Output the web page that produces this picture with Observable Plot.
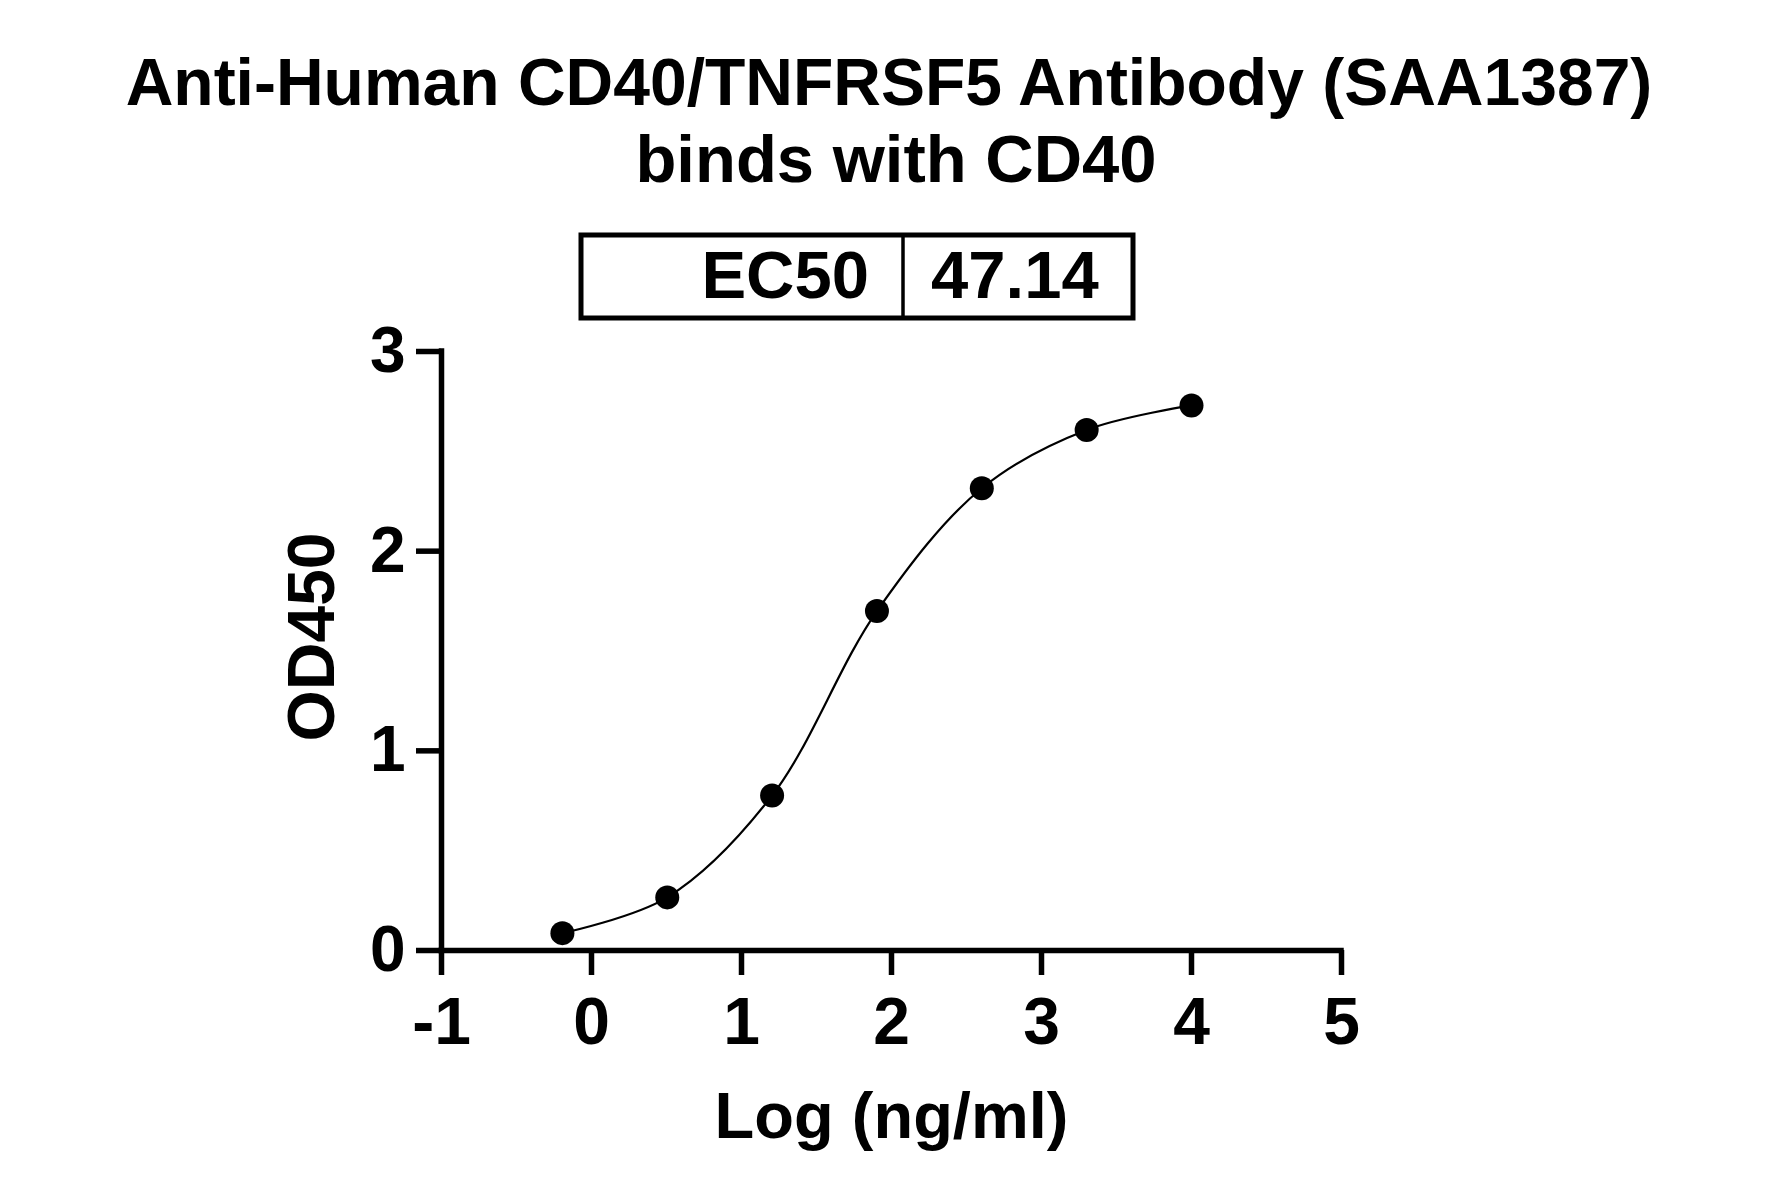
<!DOCTYPE html>
<html><head><meta charset="utf-8">
<script src="https://cdn.jsdelivr.net/npm/d3@7"></script>
<script src="https://cdn.jsdelivr.net/npm/@observablehq/plot@0.6"></script>
<style>
html,body{margin:0;padding:0;background:#fff;}
#chart{width:1781px;}
svg{display:block;}
#header{margin-bottom:-30px;}
</style></head><body><div id="chart"></div>
<script>
const titleLines = ["Anti-Human CD40/TNFRSF5 Antibody (SAA1387)", "binds with CD40"];
const ec50Label = "EC50";
const ec50Value = "47.14";
const logConc = [-0.194, 0.505, 1.204, 1.903, 2.602, 3.301, 4.0];
const od450 = [0.087, 0.266, 0.776, 1.70, 2.315, 2.607, 2.73];
const xTicks = [-1, 0, 1, 2, 3, 4, 5];
const xTickLabels = ["-1", "0", "1", "2", "3", "4", "5"];
const yTicks = [0, 1, 2, 3];
const yTickLabels = ["0", "1", "2", "3"];
const xLabel = "Log (ng/ml)";
const yLabel = "OD450";

const font = "'Liberation Sans', Arial, Helvetica, sans-serif";

// Header: title + EC50 table (placed above the plot)
const header = d3.select("#chart").append("svg")
  .attr("id", "header")
  .attr("width", 1781).attr("height", 335)
  .style("font-family", font);
header.append("text").attr("x", 889).attr("y", 105)
  .attr("text-anchor", "middle").attr("font-size", 66).attr("font-weight", "bold")
  .text(titleLines[0]);
header.append("text").attr("x", 896).attr("y", 182)
  .attr("text-anchor", "middle").attr("font-size", 67).attr("font-weight", "bold")
  .text(titleLines[1]);
header.append("rect").attr("x", 581).attr("y", 235).attr("width", 552).attr("height", 83)
  .attr("fill", "none").attr("stroke", "#000").attr("stroke-width", 5);
header.append("line").attr("x1", 903).attr("x2", 903).attr("y1", 235).attr("y2", 318)
  .attr("stroke", "#000").attr("stroke-width", 3.5);
header.append("text").attr("x", 869).attr("y", 298)
  .attr("text-anchor", "end").attr("font-size", 67).attr("font-weight", "bold")
  .text(ec50Label);
header.append("text").attr("x", 931).attr("y", 298)
  .attr("text-anchor", "start").attr("font-size", 67).attr("font-weight", "bold")
  .text(ec50Value);

const data = logConc.map((x, i) => ({x, y: od450[i]}));

const plot = Plot.plot({
  width: 1781,
  height: 892,
  marginTop: 46,
  marginBottom: 247,
  marginLeft: 441,
  marginRight: 440,
  x: {domain: [-1, 5]},
  y: {domain: [0, 3]},
  style: {fontFamily: font, color: "#000", background: "transparent", position: "relative"},
  marks: [
    Plot.ruleY([0], {strokeWidth: 5.5, strokeLinecap: "square"}),
    Plot.ruleX([-1], {strokeWidth: 5.5, strokeLinecap: "square"}),
    Plot.axisX({
      ticks: xTicks,
      tickFormat: d => xTickLabels[xTicks.indexOf(d)],
      tickSize: 25, tickPadding: 22, strokeWidth: 5.5,
      fontSize: 66, fontWeight: "bold", label: null
    }),
    Plot.axisY({
      ticks: yTicks,
      tickFormat: d => yTickLabels[yTicks.indexOf(d)],
      tickSize: 25, tickPadding: 11, strokeWidth: 5.5,
      fontSize: 64, fontWeight: "bold", label: null
    }),
    Plot.line(data, {x: "x", y: "y", curve: "catmull-rom", strokeWidth: 2.2, stroke: "#000"}),
    Plot.dot(data, {x: "x", y: "y", r: 12, fill: "#000", stroke: "none"}),
    Plot.text([xLabel], {text: d => d, frameAnchor: "bottom", lineAnchor: "top", dy: 141, fontSize: 65, fontWeight: "bold"}),
    Plot.text([yLabel], {text: d => d, frameAnchor: "left", textAnchor: "middle", lineAnchor: "middle", rotate: -90, dx: -129, dy: -14, fontSize: 66, fontWeight: "bold"})
  ]
});
document.getElementById("chart").appendChild(plot);
</script>
</body></html>
